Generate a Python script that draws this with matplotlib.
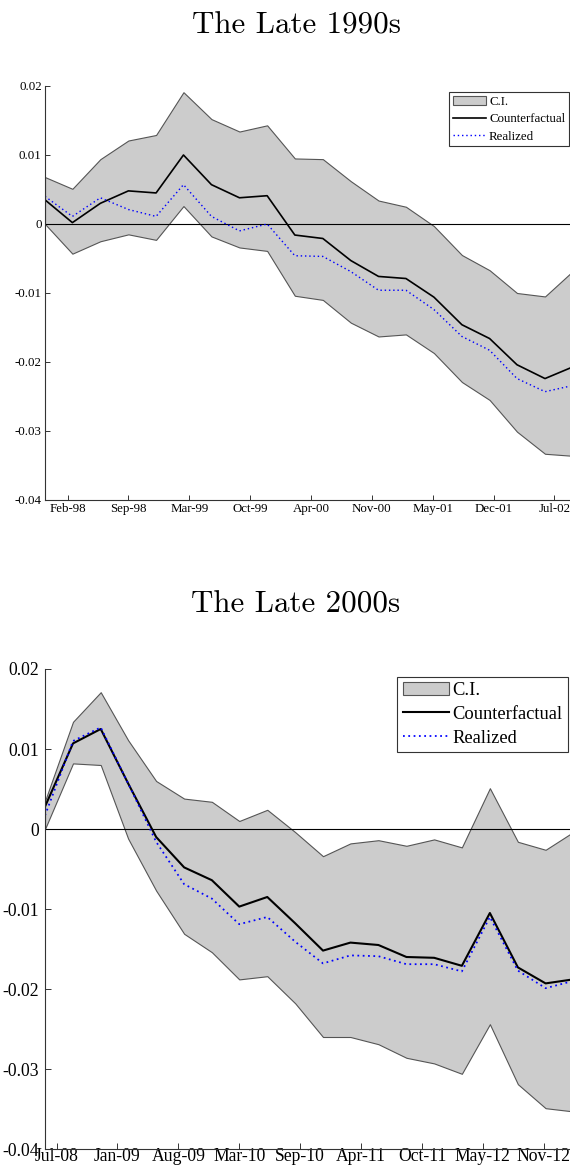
import numpy as np
import pandas as pd
import matplotlib
matplotlib.use("Agg")
import matplotlib.pyplot as plt
import matplotlib.dates as mdates

# quarterly observations, 20 per episode
dates_90s = pd.date_range("1997-12-01", periods=20, freq="QS-DEC")
dates_00s = pd.date_range("2008-06-01", periods=20, freq="QS-DEC")

# late 1990s
ci_hi_90s = [0.0068, 0.0051, 0.0094, 0.0121, 0.0129, 0.0191, 0.0152, 0.0134, 0.0143, 0.0095,
             0.0094, 0.0062, 0.0034, 0.0025, -0.0003, -0.0045, -0.0067, -0.0100, -0.0105, -0.0068]
ci_lo_90s = [0.0000, -0.0043, -0.0025, -0.0015, -0.0023, 0.0026, -0.0018, -0.0034, -0.0039, -0.0104,
             -0.0110, -0.0143, -0.0163, -0.0160, -0.0187, -0.0229, -0.0255, -0.0301, -0.0333, -0.0336]
counterfactual_90s = [0.0035, 0.0002, 0.0030, 0.0048, 0.0045, 0.0100, 0.0057, 0.0038, 0.0041, -0.0016,
                      -0.0021, -0.0053, -0.0076, -0.0079, -0.0106, -0.0146, -0.0166, -0.0204, -0.0224, -0.0207]
realized_90s = [0.0040, 0.0011, 0.0038, 0.0021, 0.0011, 0.0057, 0.0011, -0.0010, 0.0000, -0.0046,
                -0.0047, -0.0069, -0.0096, -0.0096, -0.0124, -0.0163, -0.0183, -0.0224, -0.0243, -0.0234]

# late 2000s
ci_hi_00s = [0.0035, 0.0134, 0.0171, 0.0111, 0.0060, 0.0038, 0.0034, 0.0010, 0.0024, -0.0004,
             -0.0034, -0.0018, -0.0014, -0.0021, -0.0013, -0.0023, 0.0051, -0.0016, -0.0026, -0.0004]
ci_lo_00s = [0.0000, 0.0082, 0.0080, -0.0012, -0.0077, -0.0131, -0.0154, -0.0188, -0.0184, -0.0218,
             -0.0260, -0.0260, -0.0269, -0.0286, -0.0293, -0.0306, -0.0244, -0.0319, -0.0349, -0.0353]
counterfactual_00s = [0.0028, 0.0107, 0.0125, 0.0057, -0.0010, -0.0048, -0.0064, -0.0097, -0.0085, -0.0118,
                      -0.0152, -0.0142, -0.0145, -0.0160, -0.0161, -0.0171, -0.0105, -0.0173, -0.0193, -0.0188]
realized_00s = [0.0017, 0.0110, 0.0127, 0.0057, -0.0016, -0.0069, -0.0087, -0.0119, -0.0110, -0.0141,
                -0.0168, -0.0158, -0.0159, -0.0169, -0.0169, -0.0178, -0.0110, -0.0177, -0.0199, -0.0190]

# date ticks every 200 days
ticks_90s = pd.date_range("1998-02-13", periods=9, freq="200D")
ticks_00s = pd.date_range("2008-07-09", periods=9, freq="200D")

yticks = [-0.04, -0.03, -0.02, -0.01, 0, 0.01, 0.02]
ytick_labels = ["-0.04", "-0.03", "-0.02", "-0.01", "0", "0.01", "0.02"]

W, H = 570, 1173
SERIF = "Liberation Serif"


def panel(fig, top_px, bot_px, dates, hi, lo, cf, real, ticks, fs, lw, xpad, ypad, ticklen):
    ax = fig.add_axes([45 / W, 1 - bot_px / H, (573 - 45) / W, (bot_px - top_px) / H])
    ax.fill_between(dates, lo, hi, facecolor="#cccccc", edgecolor="#555555", linewidth=0.8,
                    label="C.I.")
    ax.axhline(0, color="black", linewidth=0.8)
    ax.plot(dates, cf, color="black", linewidth=lw, label="Counterfactual")
    ax.plot(dates, real, color="#0000ff", linewidth=lw * 0.85, linestyle=(0, (1, 2.0)),
            label="Realized")
    ax.set_xlim(dates[0], dates[-1])
    ax.set_ylim(-0.04, 0.02)
    ax.set_xticks(ticks)
    ax.xaxis.set_major_formatter(mdates.DateFormatter("%b-%y"))
    ax.set_yticks(yticks)
    ax.set_yticklabels(ytick_labels)
    for s in ["top", "right"]:
        ax.spines[s].set_visible(False)
    for s in ["left", "bottom"]:
        ax.spines[s].set_color("#333333")
        ax.spines[s].set_linewidth(0.8)
    ax.tick_params(axis="both", direction="in", length=ticklen, width=0.7, color="#333333",
                   labelsize=fs, top=False, right=False)
    ax.tick_params(axis="x", pad=xpad)
    ax.tick_params(axis="y", pad=ypad)
    for t in ax.get_xticklabels() + ax.get_yticklabels():
        t.set_fontfamily(SERIF)
    return ax


def add_legend(ax, fig, corner_px, size, handlelen, spacing):
    leg = ax.legend(loc="upper right", bbox_to_anchor=(corner_px[0] / W, 1 - corner_px[1] / H),
                    bbox_transform=fig.transFigure, prop={"family": SERIF, "size": size},
                    frameon=True, fancybox=False, edgecolor="#333333", framealpha=1,
                    handlelength=handlelen, handletextpad=0.2, borderpad=0.3,
                    labelspacing=spacing, borderaxespad=0)
    leg.get_frame().set_linewidth(0.8)
    return leg


fig = plt.figure(figsize=(W / 100, H / 100), dpi=100)

ax1 = panel(fig, 86, 500, dates_90s, ci_hi_90s, ci_lo_90s, counterfactual_90s, realized_90s,
            ticks_90s, 9.3, 1.2, 2.5, 2.4, 3.6)
ax2 = panel(fig, 669, 1149, dates_00s, ci_hi_00s, ci_lo_00s, counterfactual_00s, realized_00s,
            ticks_00s, 12.7, 1.5, -1.0, 4.3, 4.3)

add_legend(ax1, fig, (569, 91.7), 9.3, 2.6, 0.42)
add_legend(ax2, fig, (568.3, 676.7), 13.3, 2.5, 0.36)

fig.text(296 / W, 1 - 33.3 / H, "The Late 1990s", family="cmr10", fontsize=22.3,
         ha="center", va="baseline")
fig.text(296 / W, 1 - 612.3 / H, "The Late 2000s", family="cmr10", fontsize=22.3,
         ha="center", va="baseline")

fig.savefig("out.png", dpi=100)
